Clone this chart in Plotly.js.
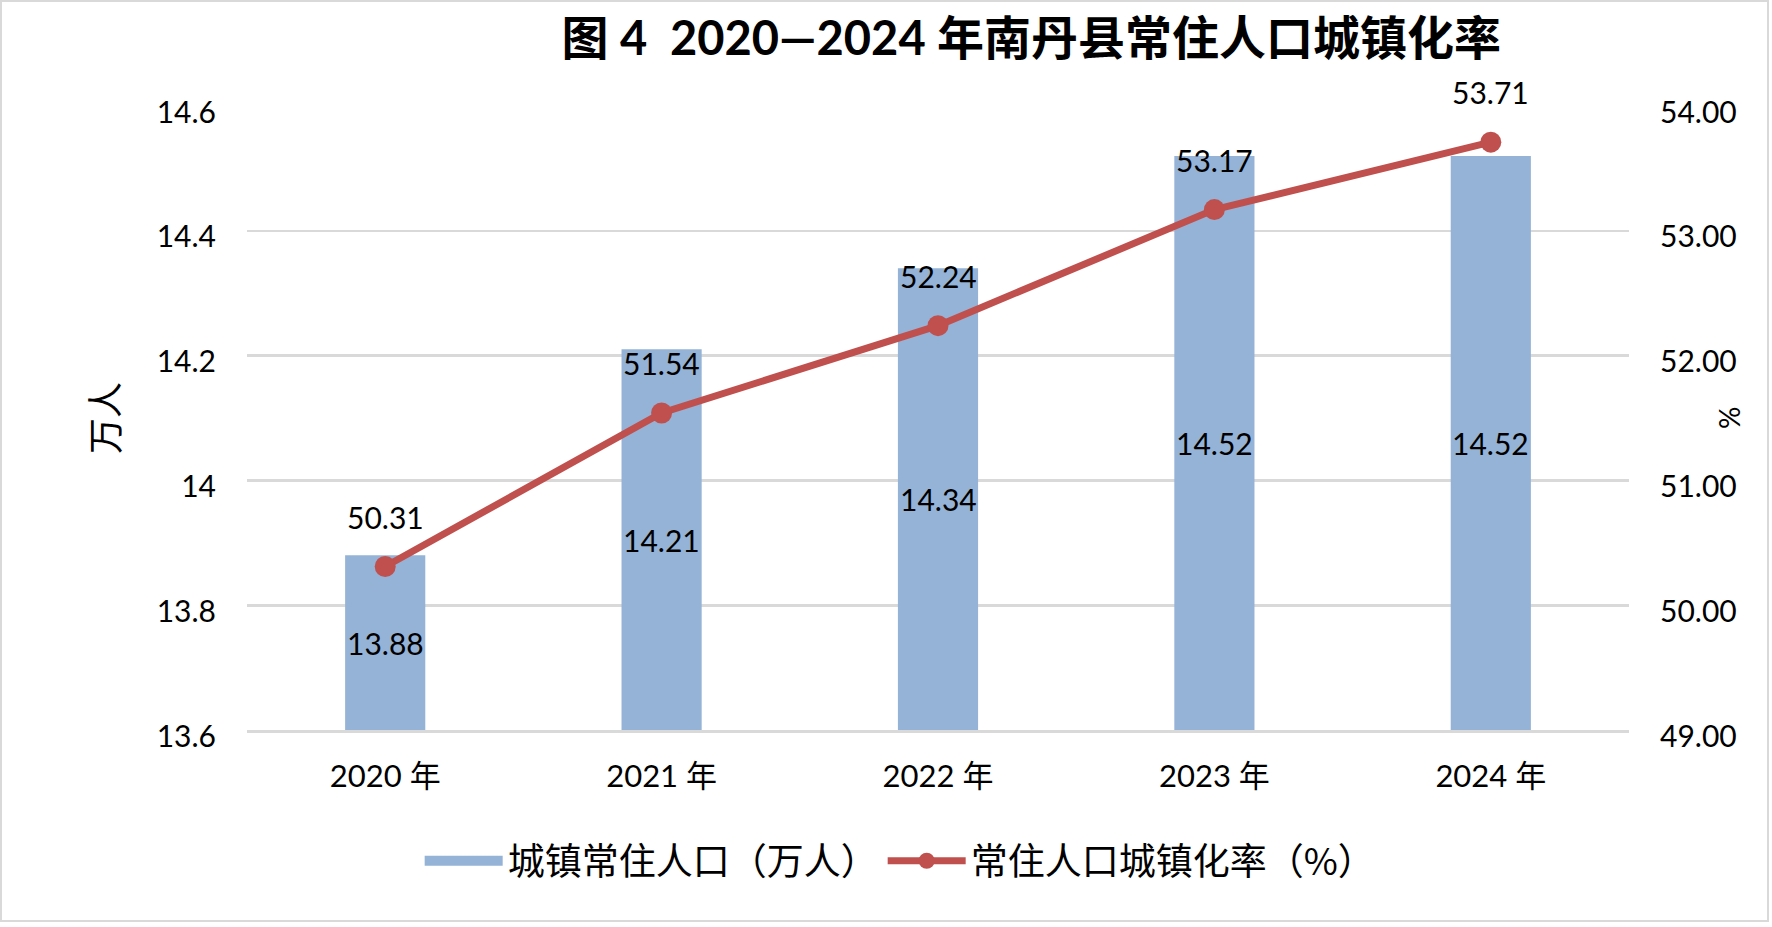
<!DOCTYPE html>
<html>
<head>
<meta charset="utf-8">
<script src="https://cdn.plot.ly/plotly-3.0.1.min.js"></script>
<style>
  html, body { margin: 0; padding: 0; background: #fff; }
  #wrap { position: relative; width: 1772px; height: 927px; }
  #chart { width: 1772px; height: 927px; }
  #frame { position: absolute; left: 0; top: 0; width: 1769px; height: 922px;
           border: 2px solid #d9d9d9; box-sizing: border-box; pointer-events: none; }
</style>
</head>
<body>
<div id="wrap">
  <div id="chart"></div>
  <div id="frame"></div>
</div>
<script>
// ---- data ----
const years = ['2020 年', '2021 年', '2022 年', '2023 年', '2024 年'];
const urbanPop = [13.88, 14.21, 14.34, 14.52, 14.52];          // 城镇常住人口（万人）
const urbanRate = [50.31, 51.54, 52.24, 53.17, 53.71];         // 常住人口城镇化率（%）
const leftTicks = [13.6, 13.8, 14, 14.2, 14.4, 14.6];
const rightTicks = [49, 50, 51, 52, 53, 54];
const rightTickText = ['49.00', '50.00', '51.00', '52.00', '53.00', '54.00'];
const leftRange = [13.6, 14.6];
const rightRange = [49, 54];

const LATIN = 'Lato, "Noto Sans CJK SC", sans-serif';
const CJK = '"Noto Sans CJK SC", Lato, sans-serif';
const barColor = '#95B3D7';
const lineColor = '#C0504D';
const gridColor = '#d9d9d9';
const popName = '城镇常住人口（万人）';
const rateName = '常住人口城镇化率（%）';

const traces = [
  {
    type: 'bar',
    name: popName,
    x: years,
    y: urbanPop,
    yaxis: 'y',
    marker: { color: barColor },
    showlegend: false,
    hoverinfo: 'skip'
  },
  // legend entry for the bars (wide swatch like the reference)
  {
    type: 'scatter',
    mode: 'lines',
    name: popName,
    x: [null],
    y: [null],
    yaxis: 'y',
    line: { color: barColor, width: 22 },
    showlegend: true,
    hoverinfo: 'skip'
  },
  {
    type: 'scatter',
    mode: 'lines+markers',
    name: rateName,
    x: years,
    y: urbanRate,
    yaxis: 'y2',
    line: { color: lineColor, width: 7 },
    marker: { color: lineColor, size: 21 },
    hoverinfo: 'skip'
  }
];

// value labels: bar labels centred in the visible bar, line labels above points
const barLabels = urbanPop.map((v, i) => ({
  x: years[i], y: (leftRange[0] + v) / 2, xref: 'x', yref: 'y',
  text: v.toFixed(2), showarrow: false, yanchor: 'middle',
  font: { family: LATIN, size: 30, color: '#000' }
}));
const lineLabels = urbanRate.map((v, i) => ({
  x: years[i], y: v, xref: 'x', yref: 'y2',
  text: v.toFixed(2), showarrow: false,
  yanchor: 'middle', yshift: 50,
  font: { family: LATIN, size: 30, color: '#000' }
}));
const pctTitle = {
  text: '%', xref: 'paper', yref: 'paper', x: 1, y: 0.5,
  xshift: 100, showarrow: false, textangle: -90,
  xanchor: 'center', yanchor: 'middle',
  font: { family: LATIN, size: 28, color: '#000' }
};

const layout = {
  width: 1772,
  height: 927,
  paper_bgcolor: '#fff',
  plot_bgcolor: '#fff',
  margin: { l: 247, r: 143, t: 106, b: 197 },
  font: { family: LATIN, size: 30, color: '#000' },
  title: {
    text: '图 4  2020—2024 年南丹县常住人口城镇化率',
    font: { family: LATIN, size: 47, color: '#000', weight: 'bold' },
    x: 0.582, xanchor: 'center', xref: 'container',
    y: 0.958, yanchor: 'middle', yref: 'container'
  },
  bargap: 0.71,
  showlegend: true,
  legend: {
    orientation: 'h',
    x: 0.508, xanchor: 'center', xref: 'container',
    y: 0.071, yanchor: 'middle', yref: 'container',
    font: { family: CJK, size: 37, color: '#000' },
    itemwidth: 78,
    traceorder: 'normal'
  },
  xaxis: {
    type: 'category',
    tickfont: { family: LATIN, size: 31, color: '#000' },
    ticks: '',
    ticklabelstandoff: 17,
    showgrid: false,
    showline: true,
    linecolor: gridColor,
    linewidth: 3,
    zeroline: false,
    fixedrange: true
  },
  yaxis: {
    range: leftRange,
    tickvals: leftTicks,
    ticktext: leftTicks.map(String),
    tickfont: { family: LATIN, size: 30, color: '#000' },
    ticks: '',
    ticklabelstandoff: 30,
    ticklabelshift: 6,
    showgrid: true,
    gridcolor: gridColor,
    gridwidth: 2.6,
    zeroline: false,
    showline: false,
    title: { text: '万人', font: { family: CJK, size: 36, color: '#000' }, standoff: 26 },
    fixedrange: true
  },
  yaxis2: {
    overlaying: 'y',
    side: 'right',
    range: rightRange,
    tickvals: rightTicks,
    ticktext: rightTickText,
    tickfont: { family: LATIN, size: 30, color: '#000' },
    ticks: '',
    ticklabelstandoff: 30,
    ticklabelshift: 6,
    showgrid: false,
    zeroline: false,
    showline: false,
    fixedrange: true
  },
  annotations: barLabels.concat(lineLabels, [pctTitle])
};

Plotly.newPlot('chart', traces, layout, { displayModeBar: false, staticPlot: true });
</script>
</body>
</html>
